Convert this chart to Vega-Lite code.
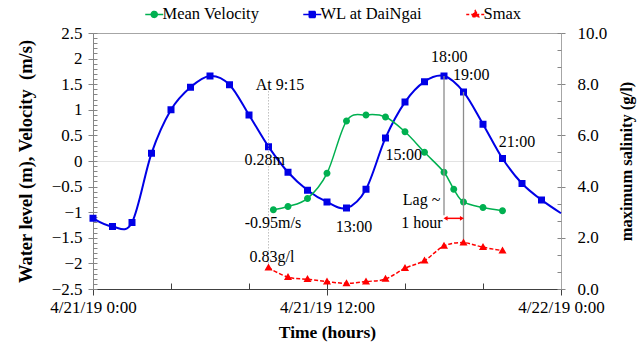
{
  "$schema": "https://vega.github.io/schema/vega-lite/v6.json",
  "width": 468,
  "height": 256,
  "autosize": {"type": "none"},
  "padding": {"left": 93, "top": 33, "right": 77, "bottom": 55},
  "background": "white",
  "config": {
    "font": "Liberation Serif",
    "view": {"stroke": "#a6a6a6", "strokeWidth": 1},
    "axis": {
      "labelFont": "Liberation Serif", "labelFontSize": 17, "labelColor": "#000000",
      "titleFont": "Liberation Serif", "titleFontSize": 17.5, "titleFontWeight": "bold", "titleColor": "#000000",
      "domainColor": "#868686", "tickColor": "#868686", "grid": false,
      "labelOverlap": false, "labelFlush": false
    }
  },
  "datasets": {
    "obs": [
      {"series": "WL at DaiNgai", "h": 0, "v": -1.12},
      {"series": "WL at DaiNgai", "h": 1, "v": -1.28},
      {"series": "WL at DaiNgai", "h": 2, "v": -1.2},
      {"series": "WL at DaiNgai", "h": 3, "v": 0.15},
      {"series": "WL at DaiNgai", "h": 4, "v": 1.0},
      {"series": "WL at DaiNgai", "h": 5, "v": 1.44},
      {"series": "WL at DaiNgai", "h": 6, "v": 1.66},
      {"series": "WL at DaiNgai", "h": 7, "v": 1.49},
      {"series": "WL at DaiNgai", "h": 8, "v": 0.9},
      {"series": "WL at DaiNgai", "h": 9, "v": 0.28},
      {"series": "WL at DaiNgai", "h": 10, "v": -0.22},
      {"series": "WL at DaiNgai", "h": 11, "v": -0.57},
      {"series": "WL at DaiNgai", "h": 12, "v": -0.8},
      {"series": "WL at DaiNgai", "h": 13, "v": -0.92},
      {"series": "WL at DaiNgai", "h": 14, "v": -0.55},
      {"series": "WL at DaiNgai", "h": 15, "v": 0.45},
      {"series": "WL at DaiNgai", "h": 16, "v": 1.15},
      {"series": "WL at DaiNgai", "h": 17, "v": 1.55},
      {"series": "WL at DaiNgai", "h": 18, "v": 1.66},
      {"series": "WL at DaiNgai", "h": 19, "v": 1.35},
      {"series": "WL at DaiNgai", "h": 20, "v": 0.72},
      {"series": "WL at DaiNgai", "h": 21, "v": 0.05},
      {"series": "WL at DaiNgai", "h": 22, "v": -0.44},
      {"series": "WL at DaiNgai", "h": 23, "v": -0.76},
      {"series": "WL at DaiNgai", "h": 24, "v": -1.02},
      {"series": "Mean Velocity", "h": 9.25, "v": -0.95},
      {"series": "Mean Velocity", "h": 10, "v": -0.89},
      {"series": "Mean Velocity", "h": 11, "v": -0.73},
      {"series": "Mean Velocity", "h": 12, "v": -0.24},
      {"series": "Mean Velocity", "h": 13, "v": 0.78},
      {"series": "Mean Velocity", "h": 14, "v": 0.9},
      {"series": "Mean Velocity", "h": 15, "v": 0.86},
      {"series": "Mean Velocity", "h": 16, "v": 0.57},
      {"series": "Mean Velocity", "h": 17, "v": 0.17},
      {"series": "Mean Velocity", "h": 18, "v": -0.22},
      {"series": "Mean Velocity", "h": 18.5, "v": -0.55},
      {"series": "Mean Velocity", "h": 19, "v": -0.8},
      {"series": "Mean Velocity", "h": 20, "v": -0.91},
      {"series": "Mean Velocity", "h": 21, "v": -0.97},
      {"series": "Smax", "h": 9, "v": 0.83},
      {"series": "Smax", "h": 10, "v": 0.46},
      {"series": "Smax", "h": 11, "v": 0.38},
      {"series": "Smax", "h": 12, "v": 0.29},
      {"series": "Smax", "h": 13, "v": 0.22},
      {"series": "Smax", "h": 14, "v": 0.29},
      {"series": "Smax", "h": 15, "v": 0.39},
      {"series": "Smax", "h": 16, "v": 0.81},
      {"series": "Smax", "h": 17, "v": 1.11},
      {"series": "Smax", "h": 18, "v": 1.68},
      {"series": "Smax", "h": 19, "v": 1.81},
      {"series": "Smax", "h": 20, "v": 1.63},
      {"series": "Smax", "h": 21, "v": 1.5}
    ],
    "guide": [{"h": 9, "v1": 1.36, "v2": -2.08}],
    "lag": [
      {"h": 18, "v1": 1.66, "v2": -1.06},
      {"h": 19, "v1": 1.35, "v2": -1.6}
    ],
    "arrow": [{"h1": 18.08, "h2": 18.92, "v": -1.12}],
    "notes": [
      {"label": "At 9:15", "h": 9.59, "v": 1.48},
      {"label": "0.28m", "h": 8.8, "v": 0.02},
      {"label": "-0.95m/s", "h": 9.23, "v": -1.21},
      {"label": "0.83g/l", "h": 9.18, "v": -1.875},
      {"label": "13:00", "h": 13.38, "v": -1.28},
      {"label": "15:00", "h": 15.94, "v": 0.12},
      {"label": "18:00", "h": 18.27, "v": 2.04},
      {"label": "19:00", "h": 19.4, "v": 1.68},
      {"label": "21:00", "h": 21.74, "v": 0.38},
      {"label": "Lag ~", "h": 16.85, "v": -0.76},
      {"label": "1 hour", "h": 16.87, "v": -1.22}
    ]
  },
  "resolve": {"scale": {"y": "independent"}, "axis": {"x": "independent"}},
  "layer": [
    {
      "resolve": {"axis": {"y": "independent"}},
      "layer": [
        {
          "data": {"name": "obs"},
          "transform": [{"filter": "datum.series === 'WL at DaiNgai'"}],
          "mark": {"type": "line", "interpolate": "cardinal", "strokeWidth": 2},
          "encoding": {
            "x": {
              "field": "h", "type": "quantitative",
              "scale": {"domain": [0, 24], "nice": false, "zero": false},
              "axis": {
                "orient": "bottom",
                "title": "Time (hours)",
                "values": [0, 12, 24],
                "labelExpr": "datum.value == 0 ? '4/21/19 0:00' : datum.value == 12 ? '4/21/19 12:00' : '4/22/19 0:00'",
                "tickSize": 6,
                "labelPadding": 4,
                "titlePadding": 8,
                "labelOverlap": false,
                "domainColor": "#404040",
                "tickColor": "#404040"
              }
            },
            "y": {
              "field": "v", "type": "quantitative",
              "scale": {"domain": [-2.5, 2.5], "nice": false, "zero": false},
              "axis": {
                "orient": "left",
                "title": "Water level (m), Velocity \u00a0(m/s)",
                "titleFontSize": 18.5,
                "values": [-2.5, -2, -1.5, -1, -0.5, 0, 0.5, 1, 1.5, 2, 2.5],
                "format": ".1~f",
                "tickSize": 5,
                "labelPadding": 6,
                "titlePadding": 16,
                "labelOverlap": false,
                "grid": true,
                "gridColor": "#e3e3e3",
                "gridOpacity": {"condition": {"test": "abs(datum.value) < 0.001", "value": 1}, "value": 0}
              }
            },
            "color": {
              "field": "series", "type": "nominal",
              "scale": {"domain": ["Mean Velocity", "WL at DaiNgai", "Smax"], "range": ["#00b050", "#0000e6", "#ff0000"]},
              "legend": {
                "orient": "none", "legendX": 53, "legendY": -27, "direction": "horizontal", "title": null,
                "labelFont": "Liberation Serif", "labelFontSize": 16.5, "labelColor": "#000000",
                "symbolSize": 36, "symbolStrokeWidth": 1.5, "labelOffset": 0, "columnPadding": 40,
                "encode": {"symbols": {"update": {
                  "stroke": {"scale": "color", "field": "value"},
                  "fill": {"scale": "color", "field": "value"},
                  "strokeWidth": {"value": 1.5},
                  "strokeDash": [{"test": "datum.value === 'Smax'", "value": [3, 2]}, {"value": [1, 0]}]
                }}}
              }
            }
          }
        },
        {
          "data": {"name": "obs"},
          "transform": [{"filter": "datum.series === 'WL at DaiNgai' && datum.h < 24"}],
          "mark": {"type": "point", "filled": true, "opacity": 1, "size": 49},
          "encoding": {
            "x": {"field": "h", "type": "quantitative"},
            "y": {"field": "v", "type": "quantitative",
              "axis": {"orient": "left", "values": [-2.5, -2.4, -2.3, -2.2, -2.1, -2, -1.9, -1.8, -1.7, -1.6, -1.5, -1.4, -1.3, -1.2, -1.1, -1, -0.9, -0.8, -0.7, -0.6, -0.5, -0.4, -0.3, -0.2, -0.1, 0, 0.1, 0.2, 0.3, 0.4, 0.5, 0.6, 0.7, 0.8, 0.9, 1, 1.1, 1.2, 1.3, 1.4, 1.5, 1.6, 1.7, 1.8, 1.9, 2, 2.1, 2.2, 2.3, 2.4, 2.5],
                "tickSize": -4, "labels": false, "domain": false, "title": null, "grid": false}},
            "color": {"field": "series", "type": "nominal"},
            "shape": {"field": "series", "type": "nominal",
              "scale": {"domain": ["Mean Velocity", "WL at DaiNgai", "Smax"],
                "range": ["M-3,0L3,0M1,0A1,1,0,1,1,-1,0A1,1,0,1,1,1,0Z", "M-3,0L3,0M-1,-1L1,-1L1,1L-1,1Z", "M-3,0L3,0M0,-1.2L1.15,0.8L-1.15,0.8Z"]}}
          }
        },
        {
          "data": {"name": "obs"},
          "transform": [{"filter": "datum.series === 'Mean Velocity'"}],
          "mark": {"type": "line", "interpolate": "cardinal", "strokeWidth": 1.5},
          "encoding": {
            "x": {"field": "h", "type": "quantitative"},
            "y": {"field": "v", "type": "quantitative", "axis": null},
            "color": {"field": "series", "type": "nominal"}
          }
        },
        {
          "data": {"name": "obs"},
          "transform": [{"filter": "datum.series === 'Mean Velocity'"}],
          "mark": {"type": "point", "filled": true, "opacity": 1, "size": 49},
          "encoding": {
            "x": {"field": "h", "type": "quantitative"},
            "y": {"field": "v", "type": "quantitative", "axis": null},
            "color": {"field": "series", "type": "nominal"},
            "shape": {"field": "series", "type": "nominal"}
          }
        },
        {
          "data": {"name": "guide"},
          "mark": {"type": "rule", "color": "#a0a0a0", "strokeWidth": 1, "strokeDash": [1, 2]},
          "encoding": {
            "x": {"field": "h", "type": "quantitative"},
            "y": {"field": "v1", "type": "quantitative", "axis": null},
            "y2": {"field": "v2"}
          }
        },
        {
          "data": {"name": "lag"},
          "mark": {"type": "rule", "color": "#8c8c8c", "strokeWidth": 1.3},
          "encoding": {
            "x": {"field": "h", "type": "quantitative"},
            "y": {"field": "v1", "type": "quantitative", "axis": null},
            "y2": {"field": "v2"}
          }
        },
        {
          "data": {"name": "arrow"},
          "mark": {"type": "rule", "color": "#ff0000", "strokeWidth": 1.5},
          "encoding": {
            "x": {"field": "h1", "type": "quantitative"},
            "x2": {"field": "h2"},
            "y": {"field": "v", "type": "quantitative", "axis": null}
          }
        },
        {
          "data": {"name": "arrow"},
          "mark": {"type": "point", "shape": "triangle-left", "filled": true, "color": "#ff0000", "opacity": 1, "size": 22},
          "encoding": {
            "x": {"field": "h1", "type": "quantitative"},
            "y": {"field": "v", "type": "quantitative", "axis": null}
          }
        },
        {
          "data": {"name": "arrow"},
          "mark": {"type": "point", "shape": "triangle-right", "filled": true, "color": "#ff0000", "opacity": 1, "size": 22},
          "encoding": {
            "x": {"field": "h2", "type": "quantitative"},
            "y": {"field": "v", "type": "quantitative", "axis": null}
          }
        },
        {
          "data": {"name": "notes"},
          "mark": {"type": "text", "align": "center", "baseline": "middle", "font": "Liberation Serif", "fontSize": 16, "color": "#000000"},
          "encoding": {
            "x": {"field": "h", "type": "quantitative"},
            "y": {"field": "v", "type": "quantitative", "axis": null},
            "text": {"field": "label"}
          }
        }
      ]
    },
    {
      "resolve": {"axis": {"y": "independent"}},
      "layer": [
        {
          "data": {"name": "obs"},
          "transform": [{"filter": "datum.series === 'Smax'"}],
          "mark": {"type": "line", "interpolate": "cardinal", "strokeWidth": 1.5, "strokeDash": [4, 2]},
          "encoding": {
            "x": {"field": "h", "type": "quantitative",
              "axis": {"orient": "bottom", "values": [0, 1, 2, 3, 4, 5, 6, 7, 8, 9, 10, 11, 12, 13, 14, 15, 16, 17, 18, 19, 20, 21, 22, 23, 24],
                "tickSize": -6, "labels": false, "domain": false, "title": null, "grid": false, "tickColor": "#404040"}},
            "y": {
              "field": "v", "type": "quantitative",
              "scale": {"domain": [0, 10], "nice": false},
              "axis": {
                "orient": "right",
                "title": "maximum salinity (g/l)",
                "titleAngle": 270,
                "titleFontSize": 16.5,
                "values": [0, 2, 4, 6, 8, 10],
                "format": ".1f",
                "tickSize": 4,
                "labelPadding": 12,
                "titlePadding": 28,
                "labelOverlap": false,
                "domainColor": "#a6a6a6"
              }
            },
            "color": {"field": "series", "type": "nominal"}
          }
        },
        {
          "data": {"name": "obs"},
          "transform": [{"filter": "datum.series === 'Smax'"}],
          "mark": {"type": "point", "filled": true, "opacity": 1, "size": 49},
          "encoding": {
            "x": {"field": "h", "type": "quantitative"},
            "y": {"field": "v", "type": "quantitative",
              "axis": {"orient": "right", "values": [0, 0.6667, 1.3333, 2, 2.6667, 3.3333, 4, 4.6667, 5.3333, 6, 6.6667, 7.3333, 8, 8.6667, 9.3333, 10],
                "tickSize": -4, "labels": false, "domain": false, "title": null, "grid": false}},
            "color": {"field": "series", "type": "nominal"},
            "shape": {"field": "series", "type": "nominal"}
          }
        }
      ]
    }
  ]
}
